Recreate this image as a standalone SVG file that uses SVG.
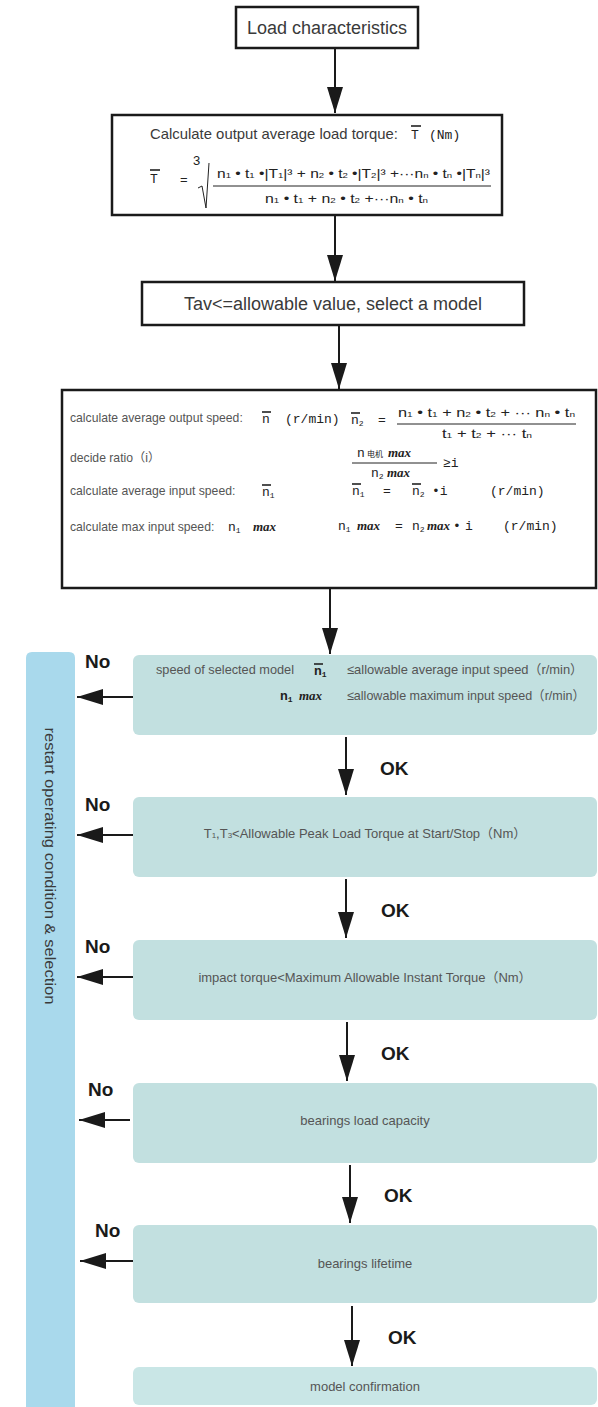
<svg xmlns="http://www.w3.org/2000/svg" width="598" height="1407" viewBox="0 0 598 1407">
<style>
.box{fill:#fff;stroke:#1a1a1a;stroke-width:2.5}
.tbox{fill:#c2e0e0}
.t{font-family:"Liberation Sans","Noto Sans CJK SC",sans-serif;fill:#3a3a3a}
.s{font-family:"Liberation Sans","Noto Sans CJK SC",sans-serif;fill:#555;font-size:13px}
.l{font-family:"Liberation Sans","Noto Sans CJK SC",sans-serif;fill:#555;font-size:12.2px}
.m{font-family:"Liberation Mono","Noto Sans CJK SC",monospace;fill:#222;font-size:13px}
.mx{font-family:"Liberation Serif",serif;font-style:italic;font-weight:bold;fill:#222;font-size:13px}
.f{font-family:"Liberation Sans","Noto Sans CJK SC",sans-serif;fill:#222;font-size:13px}
.b{font-family:"Liberation Sans",sans-serif;font-weight:bold;fill:#1a1a1a;font-size:19px}
.sb{font-size:8px}
.ol{stroke:#222;stroke-width:1.6;fill:none}
.ln{stroke:#1a1a1a;stroke-width:2;fill:none}
</style>
<defs>
<marker id="ah" viewBox="0 0 26 16" refX="26" refY="8" markerWidth="26" markerHeight="16" markerUnits="userSpaceOnUse" orient="auto">
<path d="M0,0 L26,8 L0,16 Z" fill="#1a1a1a"/>
</marker>
</defs>

<g id="restart-bar">
<path d="M26,658 Q26,652 32,652 L69,652 Q75,652 75,658 L75,1407 L26,1407 Z" fill="#a9d9ec"/>
<text class="t" font-size="15" fill="#555" transform="translate(45,866) rotate(90)" text-anchor="middle" textLength="277" lengthAdjust="spacingAndGlyphs">restart operating condition &amp; selection</text>
</g>

<g id="load">
<rect class="box" x="236" y="7" width="182" height="41"/>
<text class="t" x="327" y="34" font-size="18" text-anchor="middle">Load characteristics</text>
</g>

<g id="torque">
<rect class="box" x="112" y="115" width="390" height="100" stroke-width="3"/>
<text class="t" x="150" y="139" font-size="15" textLength="248" lengthAdjust="spacingAndGlyphs">Calculate output average load torque:</text>
<text class="m" x="411" y="139" font-size="15">T</text>
<path class="ol" d="M411,126 H421"/>
<text class="m" x="429" y="139">(Nm)</text>
<text class="m" x="150" y="183" font-size="15">T</text>
<path class="ol" d="M150,170 H160"/>
<text class="f" x="180" y="184" font-size="12">=</text>
<text class="f" x="193" y="165" font-size="12">3</text>
<path d="M198,188 L202,186 L206,208 L209,163" fill="none" stroke="#222" stroke-width="1"/>
<text class="f" x="217" y="178" textLength="273" lengthAdjust="spacingAndGlyphs">n<tspan class="sb">1</tspan> • t<tspan class="sb">1</tspan> •|T<tspan class="sb">1</tspan>|³ + n<tspan class="sb">2</tspan> • t<tspan class="sb">2</tspan> •|T<tspan class="sb">2</tspan>|³ +···n<tspan class="sb">n</tspan> • t<tspan class="sb">n</tspan> •|T<tspan class="sb">n</tspan>|³</text>
<path d="M213,186 H491" stroke="#222" stroke-width="1"/>
<text class="f" x="265" y="203" textLength="163" lengthAdjust="spacingAndGlyphs">n<tspan class="sb">1</tspan> • t<tspan class="sb">1</tspan> + n<tspan class="sb">2</tspan> • t<tspan class="sb">2</tspan> +···n<tspan class="sb">n</tspan> • t<tspan class="sb">n</tspan></text>
</g>

<g id="select">
<rect class="box" x="142" y="282" width="382" height="43"/>
<text class="t" x="333" y="310" font-size="18" text-anchor="middle">Tav&lt;=allowable value, select a model</text>
</g>

<g id="speed-calc">
<rect class="box" x="62" y="390" width="534" height="198"/>
<text class="l" x="70" y="422">calculate average output speed:</text>
<text class="m" x="262" y="423">n</text>
<path class="ol" d="M262,412 H271"/>
<text class="m" x="285" y="423">(r/min)</text>
<text class="m" x="351" y="424">n<tspan class="sb" dy="2">2</tspan></text>
<path class="ol" d="M351,413 H360"/>
<text class="m" x="378" y="424">=</text>
<text class="f" x="398" y="417" font-size="14" textLength="177" lengthAdjust="spacingAndGlyphs">n<tspan class="sb">1</tspan> • t<tspan class="sb">1</tspan> + n<tspan class="sb">2</tspan> • t<tspan class="sb">2</tspan> + ··· n<tspan class="sb">n</tspan> • t<tspan class="sb">n</tspan></text>
<path d="M397,424 H576" stroke="#222" stroke-width="1"/>
<text class="f" x="442" y="438" font-size="14" textLength="90" lengthAdjust="spacingAndGlyphs">t<tspan class="sb">1</tspan> + t<tspan class="sb">2</tspan> + ··· t<tspan class="sb">n</tspan></text>

<text class="l" x="70" y="462">decide ratio（i）</text>
<text class="m" x="357" y="457" font-size="12">n</text>
<text x="367" y="457" font-size="8" font-family="Noto Sans CJK SC,sans-serif" fill="#222">电机</text>
<text class="mx" x="388" y="457">max</text>
<path d="M352,463 H437" stroke="#222" stroke-width="1"/>
<text class="m" x="371" y="477" font-size="12">n<tspan class="sb" dy="2">2</tspan></text>
<text class="mx" x="387" y="477">max</text>
<text class="m" x="443" y="467" font-size="12">≥i</text>

<text class="l" x="70" y="495">calculate average input speed:</text>
<text class="m" x="262" y="496">n<tspan class="sb" dy="2">1</tspan></text>
<path class="ol" d="M262,485 H271"/>
<text class="m" x="352" y="495">n<tspan class="sb" dy="2">1</tspan></text>
<path class="ol" d="M352,484 H361"/>
<text class="m" x="383" y="495">=</text>
<text class="m" x="412" y="495">n<tspan class="sb" dy="2">2</tspan></text>
<path class="ol" d="M412,484 H421"/>
<text class="m" x="432" y="495">•i</text>
<text class="m" x="490" y="495">(r/min)</text>

<text class="l" x="70" y="531">calculate max input speed:</text>
<text class="m" x="228" y="531">n<tspan class="sb" dy="2">1</tspan></text>
<text class="mx" x="253" y="531">max</text>
<text class="m" x="338" y="530">n<tspan class="sb" dy="2">1</tspan></text>
<text class="mx" x="357" y="530">max</text>
<text class="m" x="395" y="530">=</text>
<text class="m" x="412" y="530">n<tspan class="sb" dy="2">2</tspan></text>
<text class="mx" x="427" y="530">max</text>
<text class="m" x="453" y="530">•</text>
<text class="m" x="465" y="530">i</text>
<text class="m" x="503" y="530">(r/min)</text>
</g>

<g id="check-speed">
<rect class="tbox" x="133" y="655" width="464" height="80" rx="6"/>
<text class="s" x="156" y="674" textLength="138" lengthAdjust="spacingAndGlyphs">speed of selected model</text>
<text class="m" x="314" y="675" font-weight="bold" font-size="12">n<tspan class="sb" dy="2">1</tspan></text>
<path class="ol" d="M314,664 H323"/>
<text class="s" x="347" y="674" textLength="236" lengthAdjust="spacingAndGlyphs">≤allowable average input speed（r/min）</text>
<text class="m" x="280" y="700" font-weight="bold" font-size="12">n<tspan class="sb" dy="2">1</tspan></text>
<text class="mx" x="299" y="700">max</text>
<text class="s" x="347" y="700" textLength="238" lengthAdjust="spacingAndGlyphs">≤allowable maximum input speed（r/min）</text>
</g>

<g id="check-peak">
<rect class="tbox" x="133" y="797" width="464" height="80" rx="6"/>
<text class="s" x="365" y="838" text-anchor="middle">T<tspan class="sb">1</tspan>,T<tspan class="sb">3</tspan>&lt;Allowable Peak Load Torque at Start/Stop（Nm）</text>
</g>

<g id="check-impact">
<rect class="tbox" x="133" y="940" width="464" height="80" rx="6"/>
<text class="s" x="365" y="982" text-anchor="middle">impact torque&lt;Maximum Allowable Instant Torque（Nm）</text>
</g>

<g id="check-bearing-load">
<rect class="tbox" x="133" y="1083" width="464" height="80" rx="6"/>
<text class="s" x="365" y="1125" text-anchor="middle">bearings load capacity</text>
</g>

<g id="check-bearing-life">
<rect class="tbox" x="133" y="1225" width="464" height="78" rx="6"/>
<text class="s" x="365" y="1268" text-anchor="middle">bearings lifetime</text>
</g>

<g id="confirm">
<rect x="133" y="1367" width="464" height="38" rx="6" fill="#c9e6e6"/>
<text class="s" x="365" y="1391" text-anchor="middle">model confirmation</text>
</g>

<g id="connectors">
<path class="ln" d="M335,48 V113" marker-end="url(#ah)"/>
<path class="ln" d="M335,215 V281" marker-end="url(#ah)"/>
<path class="ln" d="M339,325 V389" marker-end="url(#ah)"/>
<path class="ln" d="M330,589 V654" marker-end="url(#ah)"/>
<path class="ln" d="M346,737 V795" marker-end="url(#ah)"/>
<path class="ln" d="M346,879 V938" marker-end="url(#ah)"/>
<path class="ln" d="M347,1022 V1081" marker-end="url(#ah)"/>
<path class="ln" d="M350,1165 V1223" marker-end="url(#ah)"/>
<path class="ln" d="M352,1306 V1366" marker-end="url(#ah)"/>
<path class="ln" d="M133,697 H77" marker-end="url(#ah)"/>
<path class="ln" d="M133,835 H77" marker-end="url(#ah)"/>
<path class="ln" d="M133,977 H77" marker-end="url(#ah)"/>
<path class="ln" d="M130,1120 H79" marker-end="url(#ah)"/>
<path class="ln" d="M133,1261 H80" marker-end="url(#ah)"/>
<text class="b" x="85" y="668">No</text>
<text class="b" x="85" y="811">No</text>
<text class="b" x="85" y="953">No</text>
<text class="b" x="88" y="1096">No</text>
<text class="b" x="95" y="1237">No</text>
<text class="b" x="380" y="775">OK</text>
<text class="b" x="381" y="917">OK</text>
<text class="b" x="381" y="1060">OK</text>
<text class="b" x="384" y="1202">OK</text>
<text class="b" x="388" y="1344">OK</text>
</g>
</svg>
